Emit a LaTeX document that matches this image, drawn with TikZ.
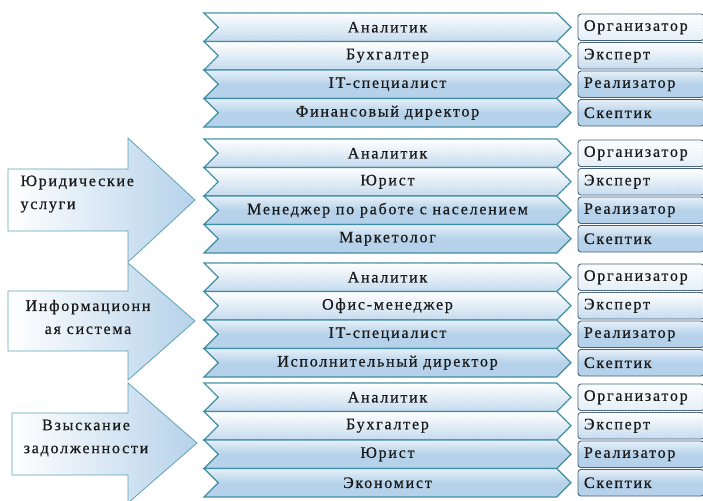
\documentclass[tikz,border=0pt]{standalone}
\usepackage{fontspec}
\setmainfont{Liberation Serif}[LetterSpace=11, FakeBold=0.6]
\usetikzlibrary{shapes.symbols,patterns}

\definecolor{rowblue}{HTML}{B6D2EA}
\definecolor{rowlight}{HTML}{E6F0F9}
\definecolor{rowedge}{HTML}{3F8DA2}
\definecolor{roleedge}{HTML}{46617B}
\definecolor{arrowedge}{HTML}{5EA3B5}
\definecolor{inktext}{HTML}{1A1A1A}
\newcommand\rowsize{\fontsize{16}{18}\selectfont}

\begin{document}
\begin{tikzpicture}[
    x=1pt, y=-1pt,
    chev/.style={shape=signal, signal from=west, signal to=east, signal pointer angle=90,
        draw=rowedge, line width=1.3pt, minimum width=367, minimum height=28.5,
        inner sep=0pt, font=\rowsize, text=inktext},
    dotrow/.style={top color=white, bottom color=rowblue!85,
        postaction={pattern=dots, pattern color=white}},
    solidrow/.style={top color=rowlight, bottom color=rowblue, middle color=rowblue},
    role/.style={draw=roleedge, line width=0.9pt, rounded corners=3pt, minimum height=26.5,
        text width=114, inner xsep=6pt, inner ysep=0pt, align=left, font=\rowsize, text=inktext},
    firstrole/.style={top color=white, bottom color=rowlight,
        postaction={pattern=dots, pattern color=rowblue!60}},
    bigarrow/.style={draw=arrowedge, line width=0.8pt, left color=white, right color=rowblue},
    arrowtext/.style={font=\fontsize{16}{23}\selectfont, text=inktext}
]
    \useasboundingbox (0,0) rectangle (703,500);

    % --- большие стрелки слева ---
    \draw[bigarrow] (8,169) -- (128,169) -- (128,138) -- (195,200) -- (128,262) -- (128,231) -- (8,231) -- cycle;
    \draw[bigarrow] (8,291) -- (128,291) -- (128,263) -- (195,321) -- (128,380) -- (128,351) -- (8,351) -- cycle;
    \draw[bigarrow] (12,413) -- (128,413) -- (128,383) -- (197,443) -- (128,503) -- (128,475) -- (12,475) -- cycle;

    \node[arrowtext, anchor=west, align=left] (arr2) at (17,194) {Юридические\\услуги};
    \node[arrowtext, align=center] (arr3) at (88,317) {Информационн\\ая система};
    \node[arrowtext, align=center] (arr4) at (86,438) {Взыскание\\задолженности};

    % --- группа 1 ---
    \node[chev, dotrow] (g1a) at (387.5,27.25) {Аналитик};
    \node[chev, dotrow] (g1b) at (387.5,55.75) {Бухгалтер};
    \node[chev, solidrow] (g1c) at (387.5,84.25) {IT-специалист};
    \node[chev, solidrow] (g1d) at (387.5,112.75) {Финансовый директор};

    % --- группа 2 ---
    \node[chev, dotrow] (g2a) at (387.5,153.25) {Аналитик};
    \node[chev, dotrow] (g2b) at (387.5,181.75) {Юрист};
    \node[chev, solidrow] (g2c) at (387.5,210.25) {Менеджер по работе с населением};
    \node[chev, solidrow] (g2d) at (387.5,238.75) {Маркетолог};

    % --- группа 3 ---
    \node[chev, dotrow] (g3a) at (387.5,277.25) {Аналитик};
    \node[chev, dotrow] (g3b) at (387.5,305.75) {Офис-менеджер};
    \node[chev, solidrow] (g3c) at (387.5,334.25) {IT-специалист};
    \node[chev, solidrow] (g3d) at (387.5,362.75) {Исполнительный директор};

    % --- группа 4 ---
    \node[chev, dotrow] (g4a) at (387.5,397.25) {Аналитик};
    \node[chev, dotrow] (g4b) at (387.5,425.75) {Бухгалтер};
    \node[chev, solidrow] (g4c) at (387.5,454.25) {Юрист};
    \node[chev, solidrow] (g4d) at (387.5,482.75) {Экономист};

    % --- роли справа ---
    \node[role, firstrole] (r1a) at (641,27.25) {Организатор};
    \node[role, dotrow] (r1b) at (641,55.75) {Эксперт};
    \node[role, solidrow] (r1c) at (641,84.25) {Реализатор};
    \node[role, solidrow] (r1d) at (641,112.75) {Скептик};

    \node[role, firstrole] (r2a) at (641,153.25) {Организатор};
    \node[role, dotrow] (r2b) at (641,181.75) {Эксперт};
    \node[role, solidrow] (r2c) at (641,210.25) {Реализатор};
    \node[role, solidrow] (r2d) at (641,238.75) {Скептик};

    \node[role, firstrole] (r3a) at (641,277.25) {Организатор};
    \node[role, dotrow] (r3b) at (641,305.75) {Эксперт};
    \node[role, solidrow] (r3c) at (641,334.25) {Реализатор};
    \node[role, solidrow] (r3d) at (641,362.75) {Скептик};

    \node[role, firstrole] (r4a) at (641,397.25) {Организатор};
    \node[role, dotrow] (r4b) at (641,425.75) {Эксперт};
    \node[role, solidrow] (r4c) at (641,454.25) {Реализатор};
    \node[role, solidrow] (r4d) at (641,482.75) {Скептик};

\end{tikzpicture}
\end{document}
